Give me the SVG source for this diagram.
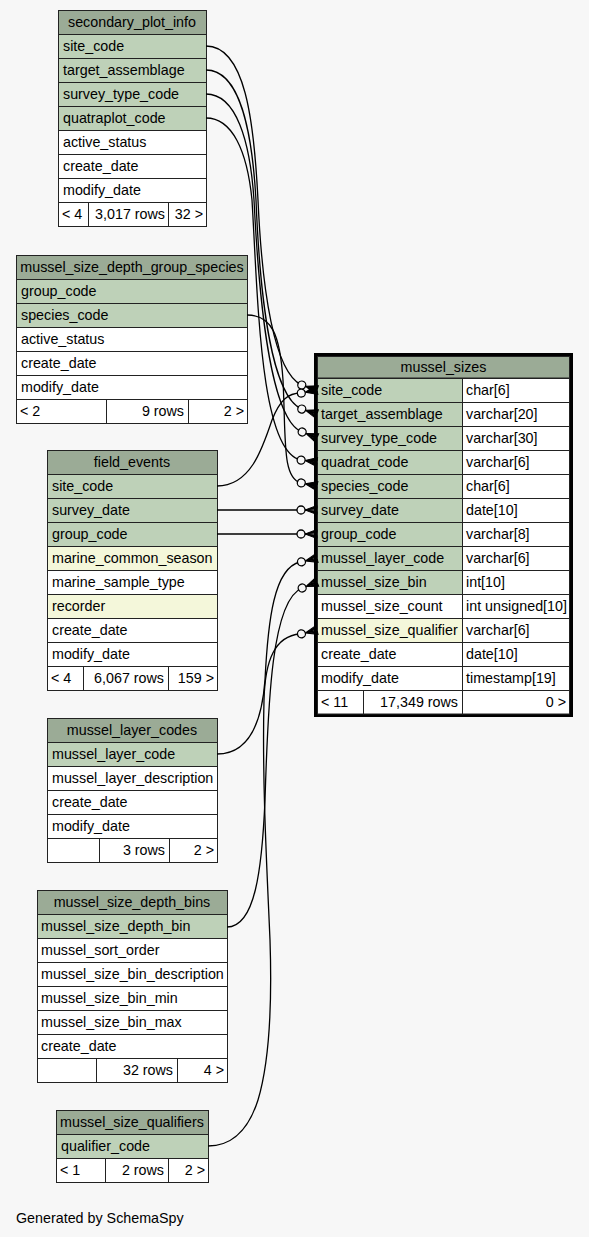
<svg xmlns="http://www.w3.org/2000/svg" xmlns:xlink="http://www.w3.org/1999/xlink" width="589" height="1237" viewBox="0 0 589 1237">
<style>
.h{fill:#9bab96;stroke:#222;stroke-width:1}
.k{fill:#bed1b8;stroke:#222;stroke-width:1}
.i{fill:#f4f7da;stroke:#222;stroke-width:1}
.w{fill:#ffffff;stroke:#222;stroke-width:1}
text{font-family:"Liberation Sans",Arial,Helvetica,sans-serif;font-size:14.3px;fill:#000}
.c{text-anchor:middle}
.r{text-anchor:end}
.e{fill:none;stroke:#000;stroke-width:1.3}
</style>
<defs>
<g id="crowodot">
<path d="M-12,0 L0,-4.5 L0,-1.5 Z M-12,0 L0,4.5 L0,1.5 Z M-12,0 L0,0" fill="#000" stroke="#000" stroke-width="1"/>
<circle cx="-16" cy="0" r="4" fill="#f7f7f7" stroke="#000" stroke-width="1.3"/>
</g>
</defs>
<rect x="0" y="0" width="589" height="1237" fill="#f7f7f7"/>

<g id="secondary_plot_info">
<rect class="h" x="58.5" y="10.5" width="148" height="24"/>
<rect class="k" x="58.5" y="34.5" width="148" height="24"/>
<rect class="k" x="58.5" y="58.5" width="148" height="24"/>
<rect class="k" x="58.5" y="82.5" width="148" height="24"/>
<rect class="k" x="58.5" y="106.5" width="148" height="24"/>
<rect class="w" x="58.5" y="130.5" width="148" height="24"/>
<rect class="w" x="58.5" y="154.5" width="148" height="24"/>
<rect class="w" x="58.5" y="178.5" width="148" height="24"/>
<rect class="w" x="58.5" y="202.5" width="30" height="24"/>
<rect class="w" x="88.5" y="202.5" width="80" height="24"/>
<rect class="w" x="168.5" y="202.5" width="38" height="24"/>
<text class="c" x="132" y="27">secondary_plot_info</text>
<text x="63" y="51">site_code</text>
<text x="63" y="75">target_assemblage</text>
<text x="63" y="99">survey_type_code</text>
<text x="63" y="123">quatraplot_code</text>
<text x="63" y="147">active_status</text>
<text x="63" y="171">create_date</text>
<text x="63" y="195">modify_date</text>
<text x="62" y="219">&lt; 4</text>
<text class="r" x="165" y="219">3,017 rows</text>
<text class="r" x="203" y="219">32 &gt;</text>
</g>

<g id="mussel_size_depth_group_species">
<rect class="h" x="16.5" y="255.5" width="231" height="24"/>
<rect class="k" x="16.5" y="279.5" width="231" height="24"/>
<rect class="k" x="16.5" y="303.5" width="231" height="24"/>
<rect class="w" x="16.5" y="327.5" width="231" height="24"/>
<rect class="w" x="16.5" y="351.5" width="231" height="24"/>
<rect class="w" x="16.5" y="375.5" width="231" height="24"/>
<rect class="w" x="16.5" y="399.5" width="90" height="24"/>
<rect class="w" x="106.5" y="399.5" width="82" height="24"/>
<rect class="w" x="188.5" y="399.5" width="59" height="24"/>
<text class="c" x="132" y="272">mussel_size_depth_group_species</text>
<text x="21" y="296">group_code</text>
<text x="21" y="320">species_code</text>
<text x="21" y="344">active_status</text>
<text x="21" y="368">create_date</text>
<text x="21" y="392">modify_date</text>
<text x="20" y="416">&lt; 2</text>
<text class="r" x="184" y="416">9 rows</text>
<text class="r" x="244" y="416">2 &gt;</text>
</g>

<g id="field_events">
<rect class="h" x="47.5" y="450.5" width="170" height="24"/>
<rect class="k" x="47.5" y="474.5" width="170" height="24"/>
<rect class="k" x="47.5" y="498.5" width="170" height="24"/>
<rect class="k" x="47.5" y="522.5" width="170" height="24"/>
<rect class="i" x="47.5" y="546.5" width="170" height="24"/>
<rect class="w" x="47.5" y="570.5" width="170" height="24"/>
<rect class="i" x="47.5" y="594.5" width="170" height="24"/>
<rect class="w" x="47.5" y="618.5" width="170" height="24"/>
<rect class="w" x="47.5" y="642.5" width="170" height="24"/>
<rect class="w" x="47.5" y="666.5" width="36" height="24"/>
<rect class="w" x="83.5" y="666.5" width="85" height="24"/>
<rect class="w" x="168.5" y="666.5" width="49" height="24"/>
<text class="c" x="132" y="467">field_events</text>
<text x="52" y="491">site_code</text>
<text x="52" y="515">survey_date</text>
<text x="52" y="539">group_code</text>
<text x="52" y="563">marine_common_season</text>
<text x="52" y="587">marine_sample_type</text>
<text x="52" y="611">recorder</text>
<text x="52" y="635">create_date</text>
<text x="52" y="659">modify_date</text>
<text x="51" y="683">&lt; 4</text>
<text class="r" x="164" y="683">6,067 rows</text>
<text class="r" x="214" y="683">159 &gt;</text>
</g>

<g id="mussel_layer_codes">
<rect class="h" x="47.5" y="718.5" width="170" height="24"/>
<rect class="k" x="47.5" y="742.5" width="170" height="24"/>
<rect class="w" x="47.5" y="766.5" width="170" height="24"/>
<rect class="w" x="47.5" y="790.5" width="170" height="24"/>
<rect class="w" x="47.5" y="814.5" width="170" height="24"/>
<rect class="w" x="47.5" y="838.5" width="52" height="24"/>
<rect class="w" x="99.5" y="838.5" width="70" height="24"/>
<rect class="w" x="169.5" y="838.5" width="48" height="24"/>
<text class="c" x="132" y="735">mussel_layer_codes</text>
<text x="52" y="759">mussel_layer_code</text>
<text x="52" y="783">mussel_layer_description</text>
<text x="52" y="807">create_date</text>
<text x="52" y="831">modify_date</text>
<text class="r" x="165" y="855">3 rows</text>
<text class="r" x="214" y="855">2 &gt;</text>
</g>

<g id="mussel_size_depth_bins">
<rect class="h" x="37.5" y="890.5" width="190" height="24"/>
<rect class="k" x="37.5" y="914.5" width="190" height="24"/>
<rect class="w" x="37.5" y="938.5" width="190" height="24"/>
<rect class="w" x="37.5" y="962.5" width="190" height="24"/>
<rect class="w" x="37.5" y="986.5" width="190" height="24"/>
<rect class="w" x="37.5" y="1010.5" width="190" height="24"/>
<rect class="w" x="37.5" y="1034.5" width="190" height="24"/>
<rect class="w" x="37.5" y="1058.5" width="59" height="24"/>
<rect class="w" x="96.5" y="1058.5" width="81" height="24"/>
<rect class="w" x="177.5" y="1058.5" width="50" height="24"/>
<text class="c" x="132" y="907">mussel_size_depth_bins</text>
<text x="41" y="931">mussel_size_depth_bin</text>
<text x="41" y="955">mussel_sort_order</text>
<text x="41" y="979">mussel_size_bin_description</text>
<text x="41" y="1003">mussel_size_bin_min</text>
<text x="41" y="1027">mussel_size_bin_max</text>
<text x="41" y="1051">create_date</text>
<text class="r" x="173" y="1075">32 rows</text>
<text class="r" x="224" y="1075">4 &gt;</text>
</g>

<g id="mussel_size_qualifiers">
<rect class="h" x="56.5" y="1110.5" width="152" height="24"/>
<rect class="k" x="56.5" y="1134.5" width="152" height="24"/>
<rect class="w" x="56.5" y="1158.5" width="49" height="24"/>
<rect class="w" x="105.5" y="1158.5" width="63" height="24"/>
<rect class="w" x="168.5" y="1158.5" width="40" height="24"/>
<text class="c" x="132" y="1127">mussel_size_qualifiers</text>
<text x="61" y="1151">qualifier_code</text>
<text x="60" y="1175">&lt; 1</text>
<text class="r" x="164" y="1175">2 rows</text>
<text class="r" x="205" y="1175">2 &gt;</text>
</g>

<g id="mussel_sizes">
<rect x="315.5" y="354.5" width="256" height="361" fill="#fff" stroke="#000" stroke-width="3"/>
<rect class="h" x="317.5" y="356.5" width="252" height="21.5"/>
<rect class="k" x="317.5" y="378.5" width="145" height="24"/>
<rect class="k" x="317.5" y="402.5" width="145" height="24"/>
<rect class="k" x="317.5" y="426.5" width="145" height="24"/>
<rect class="k" x="317.5" y="450.5" width="145" height="24"/>
<rect class="k" x="317.5" y="474.5" width="145" height="24"/>
<rect class="k" x="317.5" y="498.5" width="145" height="24"/>
<rect class="k" x="317.5" y="522.5" width="145" height="24"/>
<rect class="k" x="317.5" y="546.5" width="145" height="24"/>
<rect class="k" x="317.5" y="570.5" width="145" height="24"/>
<rect class="w" x="317.5" y="594.5" width="145" height="24"/>
<rect class="i" x="317.5" y="618.5" width="145" height="24"/>
<rect class="w" x="317.5" y="642.5" width="145" height="24"/>
<rect class="w" x="317.5" y="666.5" width="145" height="24"/>
<rect class="w" x="462.5" y="378.5" width="107" height="24"/>
<rect class="w" x="462.5" y="402.5" width="107" height="24"/>
<rect class="w" x="462.5" y="426.5" width="107" height="24"/>
<rect class="w" x="462.5" y="450.5" width="107" height="24"/>
<rect class="w" x="462.5" y="474.5" width="107" height="24"/>
<rect class="w" x="462.5" y="498.5" width="107" height="24"/>
<rect class="w" x="462.5" y="522.5" width="107" height="24"/>
<rect class="w" x="462.5" y="546.5" width="107" height="24"/>
<rect class="w" x="462.5" y="570.5" width="107" height="24"/>
<rect class="w" x="462.5" y="594.5" width="107" height="24"/>
<rect class="w" x="462.5" y="618.5" width="107" height="24"/>
<rect class="w" x="462.5" y="642.5" width="107" height="24"/>
<rect class="w" x="462.5" y="666.5" width="107" height="24"/>
<rect class="w" x="317.5" y="690.5" width="46" height="23.5"/>
<rect class="w" x="363.5" y="690.5" width="99" height="23.5"/>
<rect class="w" x="462.5" y="690.5" width="107" height="23.5"/>
<text class="c" x="443.5" y="372">mussel_sizes</text>
<text x="321" y="395">site_code</text>
<text x="321" y="419">target_assemblage</text>
<text x="321" y="443">survey_type_code</text>
<text x="321" y="467">quadrat_code</text>
<text x="321" y="491">species_code</text>
<text x="321" y="515">survey_date</text>
<text x="321" y="539">group_code</text>
<text x="321" y="563">mussel_layer_code</text>
<text x="321" y="587">mussel_size_bin</text>
<text x="321" y="611">mussel_size_count</text>
<text x="321" y="635">mussel_size_qualifier</text>
<text x="321" y="659">create_date</text>
<text x="321" y="683">modify_date</text>
<text x="466" y="395">char[6]</text>
<text x="466" y="419">varchar[20]</text>
<text x="466" y="443">varchar[30]</text>
<text x="466" y="467">varchar[6]</text>
<text x="466" y="491">char[6]</text>
<text x="466" y="515">date[10]</text>
<text x="466" y="539">varchar[8]</text>
<text x="466" y="563">varchar[6]</text>
<text x="466" y="587">int[10]</text>
<text x="466" y="611">int unsigned[10]</text>
<text x="466" y="635">varchar[6]</text>
<text x="466" y="659">date[10]</text>
<text x="466" y="683">timestamp[19]</text>
<text x="321" y="707">&lt; 11</text>
<text class="r" x="458" y="707">17,349 rows</text>
<text class="r" x="566" y="707">0 &gt;</text>
</g>

<g id="connectors">
<path class="e" d="M206,46 C245,46 254,120 258,200 C262,290 274,372 301.5,385"/>
<path class="e" d="M206,70 C240,70 252,130 256,200 C260,300 272,396 301.5,409"/>
<path class="e" d="M206,94 C236,94 250,140 254,200 C259,300 270,420 302,432"/>
<path class="e" d="M206,118 C232,118 247,150 252,200 C258,300 260,452 301,460"/>
<path class="e" d="M247,315 C272,315 280,335 283,380 C286,440 282,478 301,483"/>
<path class="e" d="M217,486 C250,486 262,450 272,420 C280,400 288,393 301,393"/>
<path class="e" d="M217,510 L300,510"/>
<path class="e" d="M217,534 L300,534"/>
<path class="e" d="M217,754 C250,754 262,720 265,680 C268,620 274,568 300,562"/>
<path class="e" d="M227,927 C255,927 262,870 265,800 C268,700 272,600 302,588"/>
<path class="e" d="M208,1146 C235,1146 250,1125 258,1100 C270,1060 272,1000 270,940 C267,870 262,780 264,700 C265,660 275,636 300,634"/>
<use xlink:href="#crowodot" transform="translate(317,390) rotate(18)"/>
<use xlink:href="#crowodot" transform="translate(317,390) rotate(-11)"/>
<use xlink:href="#crowodot" transform="translate(317,414) rotate(18)"/>
<use xlink:href="#crowodot" transform="translate(317,438) rotate(22)"/>
<use xlink:href="#crowodot" transform="translate(317,462) rotate(7)"/>
<use xlink:href="#crowodot" transform="translate(317,486) rotate(11)"/>
<use xlink:href="#crowodot" transform="translate(317,510)"/>
<use xlink:href="#crowodot" transform="translate(317,534)"/>
<use xlink:href="#crowodot" transform="translate(317,558) rotate(-14)"/>
<use xlink:href="#crowodot" transform="translate(317,582) rotate(-22)"/>
<use xlink:href="#crowodot" transform="translate(317,630) rotate(-14)"/>
</g>

<text x="16" y="1223">Generated by SchemaSpy</text>
</svg>
